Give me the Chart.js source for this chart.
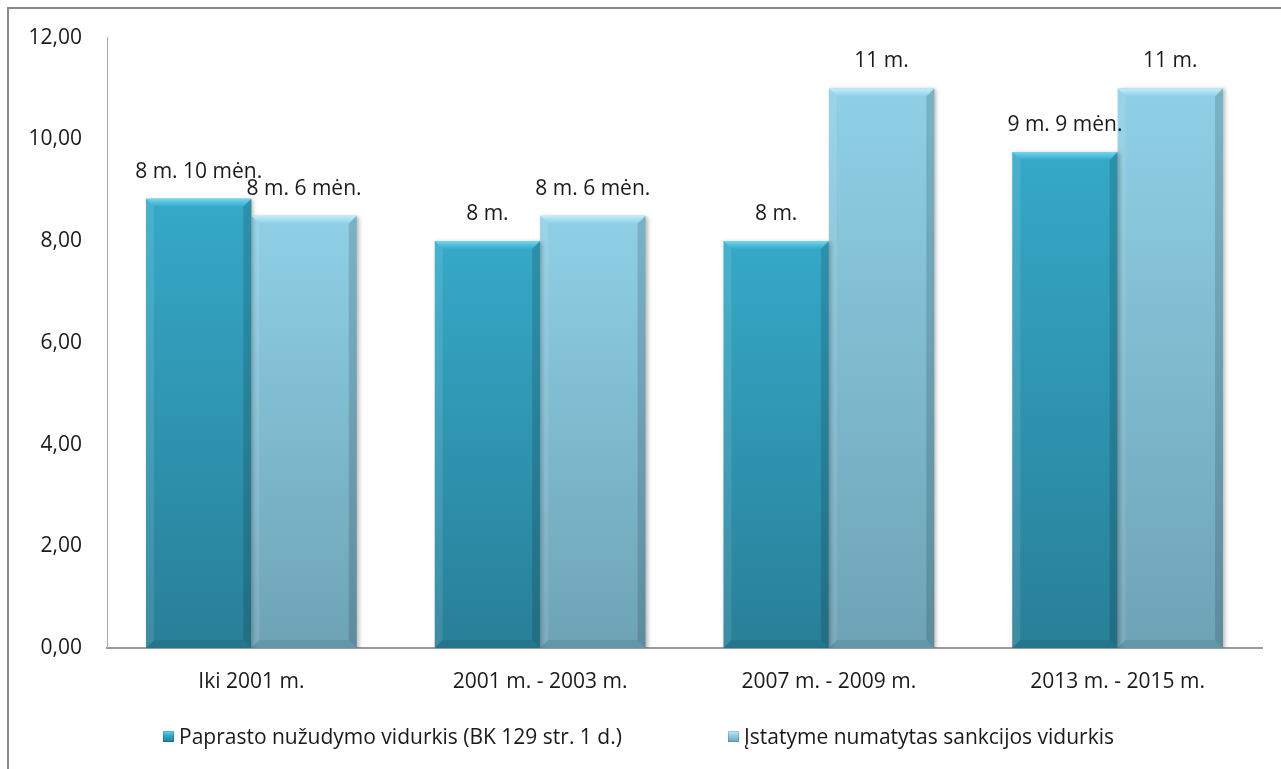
<!DOCTYPE html>
<html lang="lt">
<head>
<meta charset="utf-8">
<title>Nužudymo bausmių vidurkiai</title>
<script src="https://cdn.jsdelivr.net/npm/chart.js@4/dist/chart.umd.min.js"></script>
<style>
    html, body { margin: 0; padding: 0; background: #fff; overflow: hidden; }
    body { width: 1281px; height: 769px; position: relative; font-family: 'Open Sans', 'Noto Sans', sans-serif; }
    #frame { position: absolute; left: 7px; top: 7px; width: 1400px; height: 900px; border: 2px solid #8a8a8a; }
    #wrap { position: absolute; left: 0; top: 0; width: 1281px; height: 769px; }
    #legend { position: absolute; left: 163px; top: 722px; display: flex; align-items: center; font-size: 21px; color: #1a1a1a; white-space: nowrap; }
    #legend .item { display: flex; align-items: center; }
    #legend .item:first-child { width: 565px; }
    #legend .box { width: 11px; height: 11px; margin-right: 5px; box-shadow: inset 0 0 0 1px rgba(0,0,0,0.15); }
</style>
</head>
<body>
<div id="frame"></div>
<div id="wrap"><canvas id="chart"></canvas></div>
<div id="legend"></div>

<script>
// ================================================================
// DUOMENYS
// ================================================================
const categories   = ['Iki 2001 m.', '2001 m. - 2003 m.', '2007 m. - 2009 m.', '2013 m. - 2015 m.'];
const seriesNames  = ['Paprasto nužudymo vidurkis (BK 129 str. 1 d.)', 'Įstatyme numatytas sankcijos vidurkis'];
const actualValues = [8.83, 8, 8, 9.75];
const lawValues    = [8.5, 8.5, 11, 11];
const actualLabels = ['8 m. 10 mėn.', '8 m.', '8 m.', '9 m. 9 mėn.'];
const lawLabels    = ['8 m. 6 mėn.', '8 m. 6 mėn.', '11 m.', '11 m.'];
const yTicks       = [0, 2, 4, 6, 8, 10, 12];

// spalvos: viršus, apačia, nuožulnos šviesa
const palettes = [
    { top: '#35a9c8', bottom: '#287f98', bevel: '#6fd6ee' },
    { top: '#8fd0e6', bottom: '#6ea3b6', bevel: '#c3eef9' }
];
const FONT = '"Open Sans", "Noto Sans", sans-serif';
const FONT_SIZE = 21;

// ================================================================
// PAGALBINĖS
// ================================================================
function barGradient(ctx, p) {
    const chart = ctx.chart, area = chart.chartArea, y = chart.scales.y;
    if (!area || !y) return p.top;
    const v = ctx.raw ?? 0;
    const top = y.getPixelForValue(v), base = y.getPixelForValue(0);
    const g = chart.ctx.createLinearGradient(0, top, 0, base);
    g.addColorStop(0, p.top);
    g.addColorStop(1, p.bottom);
    return g;
}

// nuožulnos efektas (kaip Excel "bevel")
const bevelPlugin = {
    id: 'bevel',
    beforeDatasetsDraw(chart) {
        const c = chart.ctx;
        c.save();
        c.shadowColor = 'rgba(0,0,0,0.28)';
        c.shadowBlur = 4;
        c.shadowOffsetX = 2;
        c.shadowOffsetY = 1;
    },
    afterDatasetsDraw(chart) {
        const c = chart.ctx;
        c.restore();
        const b = 8;
        chart.data.datasets.forEach((ds, di) => {
            const p = palettes[di];
            chart.getDatasetMeta(di).data.forEach(el => {
                const { x, y, base, width } = el.getProps(['x', 'y', 'base', 'width'], true);
                const l = x - width / 2, r = x + width / 2;
                c.save();
                // viršus
                const g = c.createLinearGradient(0, y, 0, y + b);
                g.addColorStop(0, p.bevel);
                g.addColorStop(1, p.top);
                c.fillStyle = g;
                c.beginPath(); c.moveTo(l, y); c.lineTo(r, y); c.lineTo(r - b, y + b); c.lineTo(l + b, y + b); c.closePath(); c.fill();
                // kairė
                c.fillStyle = 'rgba(255,255,255,0.10)';
                c.beginPath(); c.moveTo(l, y); c.lineTo(l + b, y + b); c.lineTo(l + b, base - b); c.lineTo(l, base); c.closePath(); c.fill();
                // dešinė
                c.fillStyle = 'rgba(0,0,0,0.14)';
                c.beginPath(); c.moveTo(r, y); c.lineTo(r, base); c.lineTo(r - b, base - b); c.lineTo(r - b, y + b); c.closePath(); c.fill();
                // apačia
                c.fillStyle = 'rgba(0,0,0,0.08)';
                c.beginPath(); c.moveTo(l, base); c.lineTo(r, base); c.lineTo(r - b, base - b); c.lineTo(l + b, base - b); c.closePath(); c.fill();
                c.restore();
            });
        });
    }
};

// reikšmių užrašai virš stulpelių
const valueLabelPlugin = {
    id: 'valueLabels',
    afterDatasetsDraw(chart) {
        const c = chart.ctx;
        const texts = [actualLabels, lawLabels];
        c.save();
        c.font = FONT_SIZE + 'px ' + FONT;
        c.fillStyle = '#1a1a1a';
        c.textAlign = 'center';
        c.textBaseline = 'middle';
        chart.data.datasets.forEach((ds, di) => {
            chart.getDatasetMeta(di).data.forEach((el, i) => {
                const { x, y } = el.getProps(['x', 'y'], true);
                c.fillText(texts[di][i], x, y - 27);
            });
        });
        c.restore();
    }
};

// ================================================================
// DIAGRAMA
// ================================================================
const ctx = document.getElementById('chart').getContext('2d');
Chart.defaults.font.family = FONT;
Chart.defaults.font.size = FONT_SIZE;
Chart.defaults.color = '#1a1a1a';

const chart = new Chart(ctx, {
    type: 'bar',
    data: {
        labels: categories,
        datasets: [
            { label: seriesNames[0], data: actualValues, backgroundColor: c => barGradient(c, palettes[0]) },
            { label: seriesNames[1], data: lawValues,    backgroundColor: c => barGradient(c, palettes[1]) }
        ]
    },
    options: {
        responsive: true,
        maintainAspectRatio: false,
        animation: false,
        categoryPercentage: 0.73,
        barPercentage: 1.0,
        layout: { padding: { left: 10, right: 19, top: 37, bottom: 61 } },
        scales: {
            x: {
                grid: { display: false, drawTicks: false },
                border: { display: true, color: '#9a9a9a', width: 2 },
                ticks: { padding: 21 },
                afterFit: s => { s.height = 60; }
            },
            y: {
                min: 0, max: 12,
                afterBuildTicks: s => { s.ticks = yTicks.map(v => ({ value: v })); },
                grid: { display: false, drawTicks: false },
                border: { display: true, color: '#a8a8a8', width: 1 },
                ticks: { padding: 25, callback: v => v.toFixed(2).replace('.', ',') },
                afterFit: s => { s.width = 97; }
            }
        },
        plugins: {
            legend: { display: false },
            tooltip: { enabled: false }
        }
    },
    plugins: [bevelPlugin, valueLabelPlugin]
});

// legenda
const legend = document.getElementById('legend');
chart.data.datasets.forEach((ds, i) => {
    const p = palettes[i];
    legend.innerHTML += `<span class="item"><span class="box" style="background:linear-gradient(${p.bevel}, ${p.top} 40%, ${p.bottom})"></span>${ds.label}</span>`;
});
</script>
</body>
</html>
